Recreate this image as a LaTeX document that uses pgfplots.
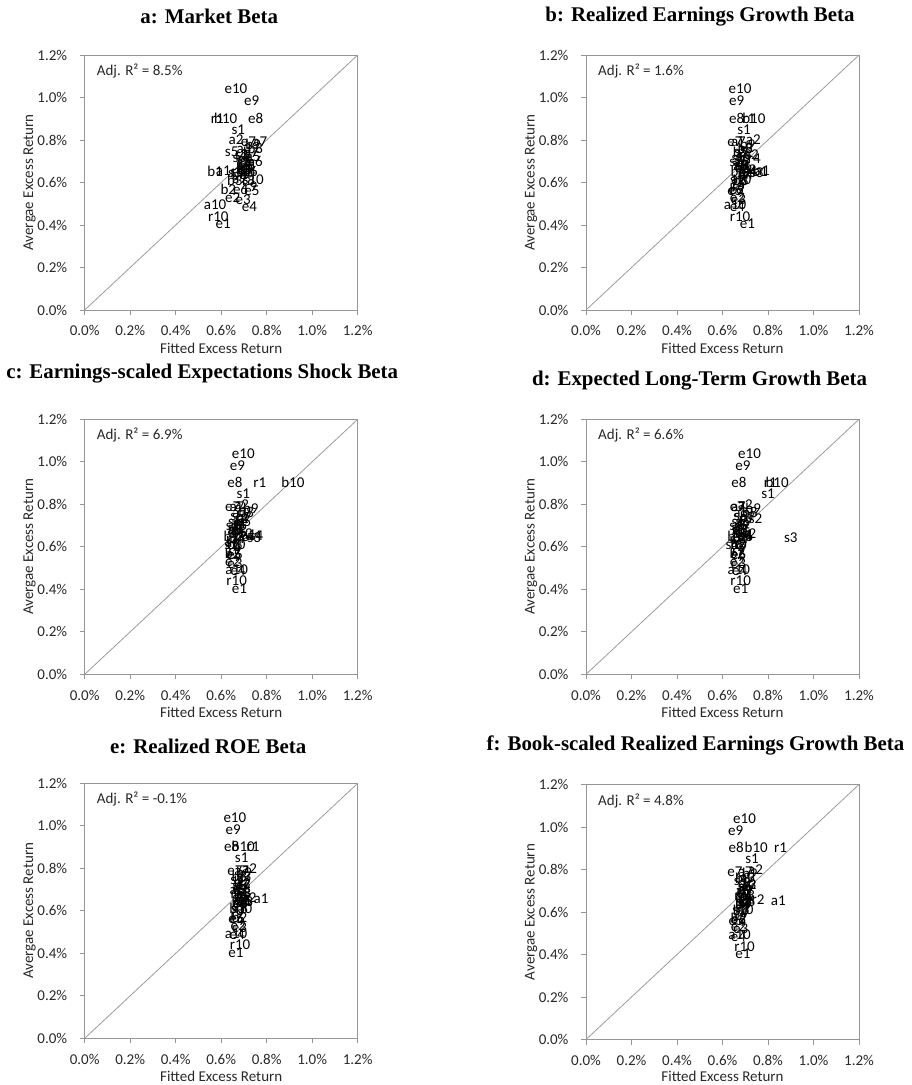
\documentclass[border=0pt]{standalone}
\usepackage{fontspec}
\setmainfont{Carlito}
\newfontfamily\titlefont{Liberation Serif}
\usepackage{pgfplots}
\pgfplotsset{compat=1.18}
\usepackage{pgfplotstable}

\definecolor{axgray}{RGB}{150,150,150}
\definecolor{diaggray}{RGB}{155,155,155}
\definecolor{txtgray}{RGB}{40,40,40}

\pgfplotstableread{
lab y xa xb xc xd xe xf
a1 0.655 0.609 0.775 0.720 0.700 0.775 0.845
a2 0.800 0.665 0.735 0.690 0.700 0.725 0.745
a3 0.760 0.700 0.700 0.680 0.680 0.700 0.710
a4 0.650 0.720 0.720 0.745 0.700 0.690 0.700
a5 0.720 0.740 0.690 0.700 0.690 0.680 0.700
a6 0.700 0.750 0.680 0.680 0.680 0.670 0.690
a7 0.790 0.770 0.670 0.670 0.670 0.690 0.700
a8 0.680 0.700 0.680 0.660 0.680 0.700 0.710
a9 0.620 0.680 0.670 0.650 0.670 0.680 0.690
a10 0.494 0.573 0.655 0.668 0.672 0.665 0.675
b1 0.651 0.573 0.765 0.645 0.655 0.700 0.690
b2 0.568 0.631 0.665 0.650 0.665 0.680 0.670
b3 0.610 0.660 0.680 0.660 0.670 0.670 0.680
b4 0.640 0.680 0.700 0.670 0.680 0.680 0.690
b5 0.670 0.700 0.690 0.680 0.690 0.690 0.700
b6 0.651 0.727 0.670 0.690 0.700 0.700 0.710
b7 0.740 0.730 0.680 0.700 0.710 0.690 0.700
b8 0.760 0.750 0.700 0.710 0.720 0.680 0.690
b9 0.780 0.740 0.710 0.730 0.735 0.700 0.720
b10 0.902 0.620 0.738 0.915 0.840 0.697 0.748
e1 0.405 0.609 0.710 0.680 0.680 0.665 0.690
e2 0.529 0.650 0.665 0.650 0.665 0.675 0.670
e3 0.521 0.697 0.670 0.660 0.670 0.680 0.680
e4 0.486 0.724 0.665 0.674 0.675 0.670 0.670
e5 0.561 0.735 0.655 0.655 0.670 0.665 0.660
e6 0.565 0.685 0.660 0.660 0.670 0.670 0.670
e7 0.790 0.720 0.655 0.650 0.665 0.660 0.655
e8 0.902 0.752 0.662 0.660 0.672 0.646 0.660
e9 0.983 0.734 0.662 0.671 0.690 0.653 0.658
e10 1.040 0.665 0.677 0.697 0.719 0.660 0.697
r1 0.902 0.583 0.716 0.770 0.810 0.740 0.855
r2 0.660 0.700 0.720 0.710 0.720 0.727 0.756
r3 0.730 0.690 0.700 0.690 0.700 0.700 0.720
r4 0.710 0.700 0.740 0.680 0.690 0.690 0.700
r5 0.700 0.710 0.690 0.670 0.680 0.680 0.690
r6 0.680 0.700 0.680 0.660 0.670 0.670 0.680
r7 0.640 0.710 0.700 0.650 0.660 0.680 0.700
r8 0.610 0.720 0.680 0.655 0.665 0.690 0.690
r9 0.580 0.730 0.670 0.660 0.670 0.670 0.680
r10 0.439 0.587 0.677 0.668 0.680 0.683 0.697
s1 0.850 0.675 0.695 0.697 0.800 0.690 0.730
s2 0.730 0.690 0.730 0.690 0.745 0.700 0.720
s3 0.645 0.660 0.750 0.745 0.900 0.710 0.700
s4 0.650 0.670 0.720 0.755 0.700 0.690 0.690
s5 0.745 0.646 0.680 0.670 0.680 0.670 0.680
s6 0.720 0.680 0.670 0.660 0.670 0.680 0.700
s7 0.700 0.700 0.660 0.650 0.660 0.690 0.710
s8 0.680 0.720 0.690 0.660 0.670 0.700 0.690
s9 0.660 0.710 0.700 0.670 0.680 0.680 0.700
s10 0.612 0.741 0.680 0.660 0.660 0.690 0.690
}\data

\pgfplotsset{
  panel/.style={
    scale only axis, width=273pt, height=255pt,
    xmin=0, xmax=1.2, ymin=0, ymax=1.2,
    xtick={0,0.2,0.4,0.6,0.8,1.0,1.2},
    ytick={0,0.2,0.4,0.6,0.8,1.0,1.2},
    xticklabels={0.0\%,0.2\%,0.4\%,0.6\%,0.8\%,1.0\%,1.2\%},
    yticklabels={0.0\%,0.2\%,0.4\%,0.6\%,0.8\%,1.0\%,1.2\%},
    tick align=outside, tick pos=left,
    major tick length=5pt,
    axis line style={axgray, line width=1pt},
    every tick/.style={axgray, line width=1pt},
    tick label style={font=\fontsize{15}{18}\selectfont, text=txtgray},
    xticklabel style={yshift=-7pt},
    yticklabel style={xshift=-9pt},
    label style={font=\fontsize{15}{18}\selectfont, text=txtgray, inner sep=0pt},
    xlabel={Fitted Excess Return},
    ylabel={Avergae Excess Return},
    xlabel style={at={([yshift=-38pt]axis description cs:0.5,0)}, anchor=center},
    ylabel style={at={([xshift=-55pt]axis description cs:0,0.5)}, anchor=center},
    title style={font=\titlefont\bfseries\fontsize{20.9}{24}\selectfont, anchor=center, inner sep=0pt},
    anchor=north west,
  },
  lbl/.style={only marks, mark=none, nodes near coords={\pgfplotspointmeta},
    point meta=explicit symbolic,
    every node near coord/.append style={font=\fontsize{15}{18}\selectfont, anchor=center, inner sep=0pt, text=black}},
  diag/.style={diaggray, line width=0.8pt},
}
\newcommand{\rsq}[1]{\node[anchor=west, inner sep=0pt, font=\fontsize{15}{18}\selectfont, text=txtgray] at (rel axis cs:0.044,0.937) {Adj. R² = #1};}

\begin{document}
\begin{tikzpicture}
\path[use as bounding box] (0,0) rectangle (912pt,-1085pt);

\begin{axis}[panel, at={(84.7pt,-55pt)}, title={a: Market Beta},
  title style={at={([xshift=-12pt,yshift=32.3pt]axis description cs:0.5,1)}, anchor=center}]
\addplot[diag] coordinates {(0,0) (1.2,1.2)};
\addplot[lbl] table[x=xa, y=y, meta=lab] {\data};
\rsq{8.5\%}
\end{axis}

\begin{axis}[panel, at={(586pt,-55pt)}, title={b: Realized Earnings Growth Beta},
  title style={at={([xshift=-22.5pt,yshift=32.3pt]axis description cs:0.5,1)}, anchor=center}]
\addplot[diag] coordinates {(0,0) (1.2,1.2)};
\addplot[lbl] table[x=xb, y=y, meta=lab] {\data};
\rsq{1.6\%}
\end{axis}

\begin{axis}[panel, at={(84.7pt,-419.3pt)}, title={c: Earnings-scaled Expectations Shock Beta},
  title style={at={([xshift=-19pt,yshift=40pt]axis description cs:0.5,1)}, anchor=center}]
\addplot[diag] coordinates {(0,0) (1.2,1.2)};
\addplot[lbl] table[x=xc, y=y, meta=lab] {\data};
\rsq{6.9\%}
\end{axis}

\begin{axis}[panel, at={(586pt,-419.3pt)}, title={d: Expected Long-Term Growth Beta},
  title style={at={([xshift=-23pt,yshift=32.6pt]axis description cs:0.5,1)}, anchor=center}]
\addplot[diag] coordinates {(0,0) (1.2,1.2)};
\addplot[lbl] table[x=xd, y=y, meta=lab] {\data};
\rsq{6.6\%}
\end{axis}

\begin{axis}[panel, at={(84.7pt,-783.3pt)}, title={e: Realized ROE Beta},
  title style={at={([xshift=-13pt,yshift=30.6pt]axis description cs:0.5,1)}, anchor=center}]
\addplot[diag] coordinates {(0,0) (1.2,1.2)};
\addplot[lbl] table[x=xe, y=y, meta=lab] {\data};
\rsq{-0.1\%}
\end{axis}

\begin{axis}[panel, at={(586pt,-784.5pt)}, title={f: Book-scaled Realized Earnings Growth Beta},
  title style={at={([xshift=-27pt,yshift=32.7pt]axis description cs:0.5,1)}, anchor=center},
  xlabel style={at={([yshift=-37pt]axis description cs:0.5,0)}}]
\addplot[diag] coordinates {(0,0) (1.2,1.2)};
\addplot[lbl] table[x=xf, y=y, meta=lab] {\data};
\rsq{4.8\%}
\end{axis}

\end{tikzpicture}
\end{document}
